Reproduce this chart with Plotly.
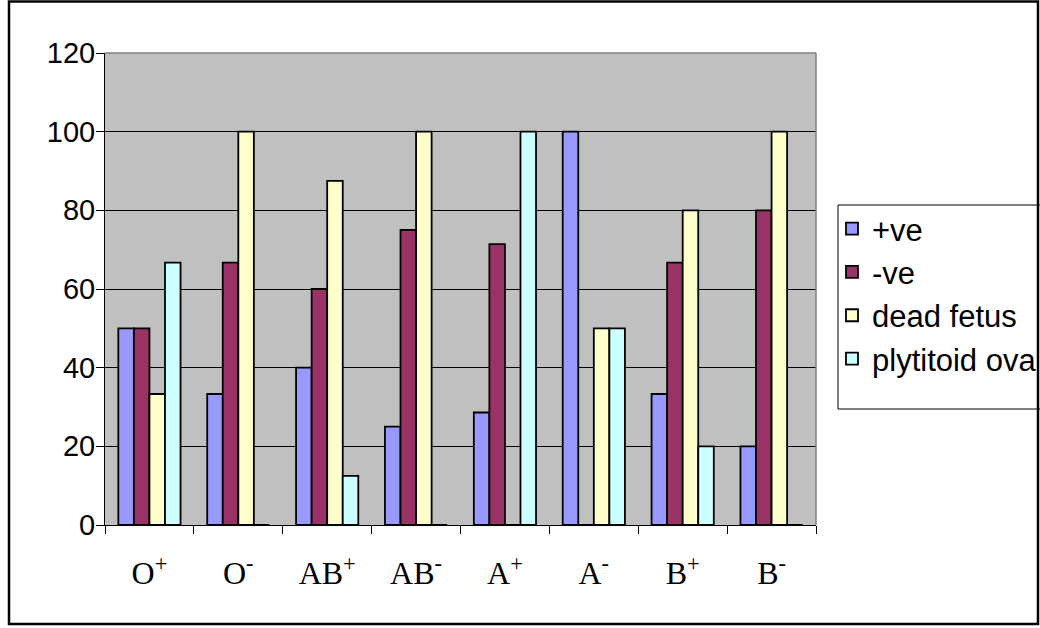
import plotly.graph_objects as go

# ---- data ----
categories = ["O+", "O-", "AB+", "AB-", "A+", "A-", "B+", "B-"]
tick_labels = ["O<sup>+</sup>", "O<sup>-</sup>", "AB<sup>+</sup>", "AB<sup>-</sup>",
               "A<sup>+</sup>", "A<sup>-</sup>", "B<sup>+</sup>", "B<sup>-</sup>"]
pos_ve = [50, 33.3, 40, 25, 28.6, 100, 33.3, 20]
neg_ve = [50, 66.7, 60, 75, 71.4, 0, 66.7, 80]
dead_fetus = [33.3, 100, 87.5, 100, 0, 50, 80, 100]
plytitoid_ova = [66.7, 0, 12.5, 0, 100, 50, 20, 0]

series = [
    ("+ve", pos_ve, "#9999FF"),
    ("-ve", neg_ve, "#993366"),
    ("dead fetus", dead_fetus, "#FFFFCC"),
    ("plytitoid ova", plytitoid_ova, "#CCFFFF"),
]

W, H = 1040, 628
L, R, T, B = 105, 816, 53, 525  # plot area in pixels

def px(x):
    return (x - L) / (R - L)

def py(y):
    return (B - y) / (B - T)

fig = go.Figure()
for name, vals, col in series:
    fig.add_trace(go.Bar(
        x=categories, y=vals, name=name,
        marker=dict(color=col, line=dict(color="black", width=1.8)),
    ))

shapes = [
    # outer chart frame
    dict(type="rect", xref="paper", yref="paper",
         x0=px(9), x1=px(1038), y0=py(1.5), y1=py(624),
         line=dict(color="black", width=2.5), layer="above"),
    # plot area top & right border (gray)
    dict(type="line", xref="paper", yref="paper",
         x0=0, x1=1, y0=1, y1=1, line=dict(color="#808080", width=1.5)),
    dict(type="line", xref="paper", yref="paper",
         x0=1, x1=1, y0=0, y1=1, line=dict(color="#808080", width=1.5)),
    # legend box
    dict(type="rect", xref="paper", yref="paper",
         x0=px(838), x1=px(1100), y0=py(205), y1=py(409),
         line=dict(color="black", width=1), fillcolor="white", layer="below"),
]

fig.update_layout(
    width=W, height=H,
    margin=dict(l=L, r=W - R, t=T, b=H - B, autoexpand=False),
    paper_bgcolor="white",
    plot_bgcolor="#C0C0C0",
    barmode="group",
    bargap=0.3,
    bargroupgap=0,
    showlegend=True,
    legend=dict(
        x=px(832), y=py(202), xanchor="left", yanchor="top",
        font=dict(family="Arial, Liberation Sans, sans-serif", size=31, color="black"),
        bgcolor="rgba(0,0,0,0)", borderwidth=0,
        itemwidth=30, tracegroupgap=0,
    ),
    shapes=shapes,
    xaxis=dict(
        type="category",
        tickmode="array", tickvals=categories, ticktext=tick_labels,
        tickson="boundaries",
        ticks="outside", ticklen=8, tickcolor="black", tickwidth=1,
        showline=True, linecolor="black", linewidth=1,
        showgrid=False,
        tickfont=dict(family="Times New Roman, Liberation Serif, serif", size=32, color="black"),
        ticklabelstandoff=20,
    ),
    yaxis=dict(
        range=[0, 120], dtick=20, tick0=0,
        ticks="outside", ticklen=8, tickcolor="black",
        showline=True, linecolor="black", linewidth=1,
        showgrid=True, gridcolor="black", gridwidth=1,
        zeroline=False,
        tickfont=dict(family="Arial, Liberation Sans, sans-serif", size=29, color="black"),
        ticklabelstandoff=-5,
    ),
)

fig.write_html(
    "out.html",
    config={"displayModeBar": False},
    post_script="document.body.style.margin='0';document.body.style.overflow='hidden';",
)
